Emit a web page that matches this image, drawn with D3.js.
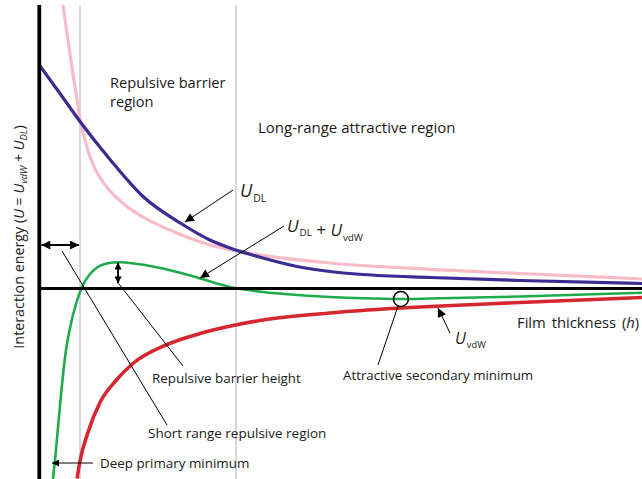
<!DOCTYPE html>
<html>
<head>
<meta charset="utf-8">
<script src="https://cdn.jsdelivr.net/npm/d3@7"></script>
<style>
  html, body { margin: 0; padding: 0; background: #fff; }
  svg { display: block; }
  text { font-family: "Open Sans", "Noto Sans", sans-serif; fill: #1a1a1a; }
</style>
</head>
<body>
<svg id="chart" width="642" height="479"></svg>
<script>
// ---------- data (film thickness h, interaction energy U; arbitrary units) ----------
const hDL  = [0, 0.515, 1.013, 1.760, 2.581, 3.527, 4.248, 4.746, 5.567, 6.413, 7.234, 8.056, 9.723, 11.963, 15];
const uDL  = [2.235, 1.95, 1.67, 1.29, 0.92, 0.65, 0.485, 0.405, 0.305, 0.22, 0.17, 0.14, 0.11, 0.08, 0.05];

const hRep = [0.590, 0.688, 0.812, 0.939, 1.013, 1.088, 1.212, 1.337, 1.511, 1.760, 2.133, 2.581, 3.427, 4.248, 4.995, 5.567, 7.234, 9.723, 11.963, 15];
const uRep = [2.835, 2.555, 2.215, 1.885, 1.70, 1.56, 1.38, 1.24, 1.11, 0.975, 0.835, 0.715, 0.555, 0.435, 0.368, 0.332, 0.255, 0.192, 0.15, 0.095];

const hSum = [0.341, 0.403, 0.478, 0.577, 0.665, 0.764, 0.913, 1.063, 1.262, 1.436, 1.635, 1.834, 2.058, 2.257, 3.078, 3.925, 4.746, 5.567, 6.413, 7.234, 8.056, 9.002, 9.723, 11.963, 15];
const uSum = [-1.905, -1.665, -1.335, -0.915, -0.615, -0.395, -0.155, 0.015, 0.145, 0.21, 0.245, 0.26, 0.262, 0.255, 0.20, 0.11, 0.015, -0.035, -0.065, -0.085, -0.098, -0.105, -0.10, -0.08, -0.042];

const hVdw = [0.94, 1.01, 1.21, 1.51, 1.93, 2.33, 3.18, 4.0, 4.82, 5.57, 7.23, 8.90, 9.72, 11.96, 15];
const uVdw = [-1.90, -1.73, -1.44, -1.14, -0.91, -0.75, -0.56, -0.45, -0.37, -0.315, -0.245, -0.198, -0.18, -0.14, -0.09];

const regionBounds = [1.013, 4.895];    // short-range / barrier / long-range boundaries
const secondaryMin = [9.0, -0.105];     // attractive secondary minimum
const barrierPeak  = [1.96, 0.25];      // repulsive barrier top

const xDomain = [0, 15];
const yDomain = [-1.905, 2.835];

// ---------- scales ----------
const svg = d3.select("#chart");
const pL = 39.3, pR = 642, pT = 5, pB = 479;
const x = d3.scaleLinear().domain(xDomain).range([pL, pR]);
const y = d3.scaleLinear().domain(yDomain).range([pB, pT]);

const defs = svg.append("defs");
defs.append("clipPath").attr("id", "plot")
  .append("rect").attr("x", pL).attr("y", pT).attr("width", pR - pL).attr("height", pB - pT);

function marker(id, w, h) {
  defs.append("marker").attr("id", id)
    .attr("viewBox", "0 0 10 10").attr("refX", 10).attr("refY", 5)
    .attr("markerUnits", "userSpaceOnUse")
    .attr("markerWidth", w).attr("markerHeight", h)
    .attr("orient", "auto-start-reverse")
    .append("path").attr("d", "M0,0 L10,5 L0,10 Z").attr("fill", "#000");
}
marker("ah", 11, 9);
marker("ahs", 8, 7);

// ---------- region boundaries ----------
svg.selectAll(".vline").data(regionBounds).enter().append("line")
  .attr("x1", d => x(d)).attr("x2", d => x(d))
  .attr("y1", pT).attr("y2", pB)
  .attr("stroke", "#bdbdcc").attr("stroke-width", 1.2);

// ---------- curves ----------
const line = d3.line().x(d => x(d[0])).y(d => y(d[1])).curve(d3.curveMonotoneX);
const plot = svg.append("g").attr("clip-path", "url(#plot)");
const series = [
  { h: hRep, u: uRep, color: "#f7bcc8", w: 3.2 },
  { h: hDL,  u: uDL,  color: "#3b2b92", w: 3.2 },
  { h: hSum, u: uSum, color: "#1fab4b", w: 2.6 },
  { h: hVdw, u: uVdw, color: "#d6262f", w: 3.6 }
];

// horizontal zero axis
svg.append("line").attr("x1", x(0)).attr("x2", pR).attr("y1", y(0)).attr("y2", y(0))
  .attr("stroke", "#000").attr("stroke-width", 3.2);

series.forEach(s => {
  plot.append("path").datum(s.h.map((h, i) => [h, s.u[i]]))
    .attr("d", line).attr("fill", "none")
    .attr("stroke", s.color).attr("stroke-width", s.w)
    .attr("stroke-linecap", "butt");
});

// vertical axis
svg.append("line").attr("x1", x(0)).attr("x2", x(0)).attr("y1", pT).attr("y2", pB)
  .attr("stroke", "#000").attr("stroke-width", 3.8);

// ---------- annotations ----------
function arrow(x1, y1, x2, y2, opts) {
  const l = svg.append("line").attr("x1", x1).attr("y1", y1).attr("x2", x2).attr("y2", y2)
    .attr("stroke", "#000").attr("stroke-width", opts.w || 1);
  if (opts.end) l.attr("marker-end", `url(#${opts.end})`);
  if (opts.start) l.attr("marker-start", `url(#${opts.start})`);
}
// short-range double arrow
arrow(x(0) + 2, 245, x(regionBounds[0]) - 1, 245, { w: 2, start: "ah", end: "ah" });
// barrier height double arrow
arrow(x(barrierPeak[0]), y(barrierPeak[1]) - 1, x(barrierPeak[0]), y(0) - 5, { w: 2, start: "ahs", end: "ahs" });

// leaders
arrow(233, 190, 185, 222, { end: "ah" });                 // U_DL
arrow(284, 226, 200, 278, { end: "ah" });                 // U_DL + U_vdW
arrow(450, 333, 438, 308, { end: "ah" });                 // U_vdW
arrow(93, 463, 52, 463, { end: "ahs" });                  // deep primary minimum
arrow(62, 251, 167, 425, {});                             // short range
arrow(119, 284, 183, 366, {});                            // barrier height
arrow(398, 306, 378, 365, {});                            // secondary min

svg.append("circle").attr("cx", x(secondaryMin[0])).attr("cy", y(secondaryMin[1]))
  .attr("r", 7.5).attr("fill", "none").attr("stroke", "#000").attr("stroke-width", 1.5);

// ---------- texts ----------
function txt(t, xx, yy, size) {
  return svg.append("text").attr("x", xx).attr("y", yy).attr("font-size", size).text(t);
}
txt("Repulsive barrier", 110, 87.5, 14.6);
txt("region", 110, 107, 14.6);
txt("Long-range attractive region", 258, 133, 15);
txt("Repulsive barrier height", 152, 383, 13.4);
txt("Short range repulsive region", 148, 438, 13.5);
txt("Deep primary minimum", 100, 468, 13.4);
txt("Attractive secondary minimum", 343, 380, 13.3);

const film = svg.append("text").attr("x", 517).attr("y", 328).attr("font-size", 14.8)
  .attr("word-spacing", 2);
film.append("tspan").text("Film thickness (");
film.append("tspan").attr("font-style", "italic").text("h");
film.append("tspan").text(")");

function uLabel(xx, yy, parts, size) {
  const t = svg.append("text").attr("x", xx).attr("y", yy).attr("font-size", size);
  parts.forEach(p => {
    if (p.sub) {
      t.append("tspan").attr("font-size", size * 0.58).attr("dy", size * 0.25).attr("dx", 1).text(p.sub);
      t.append("tspan").attr("dy", -size * 0.25).text("");
    } else if (p.u) {
      t.append("tspan").attr("font-style", "italic").text("U");
    } else {
      t.append("tspan").text(p.t);
    }
  });
}
uLabel(240, 197, [{ u: 1 }, { sub: "DL" }], 18);
uLabel(287, 232, [{ u: 1 }, { sub: "DL" }, { t: " + " }, { u: 1 }, { sub: "vdW" }], 17);
uLabel(455, 344, [{ u: 1 }, { sub: "vdW" }], 16);

// y-axis title
const yt = svg.append("text").attr("transform", "translate(24,237) rotate(-90)")
  .attr("text-anchor", "middle").attr("font-size", 14.3);
yt.append("tspan").text("Interaction energy (");
yt.append("tspan").attr("font-style", "italic").text("U");
yt.append("tspan").text(" = ");
yt.append("tspan").attr("font-style", "italic").text("U");
yt.append("tspan").attr("font-style", "italic").attr("font-size", 9.5).attr("dy", 3).text("vdW");
yt.append("tspan").attr("dy", -3).text(" + ");
yt.append("tspan").attr("font-style", "italic").text("U");
yt.append("tspan").attr("font-style", "italic").attr("font-size", 9.5).attr("dy", 3).text("DL");
yt.append("tspan").attr("dy", -3).text(")");
</script>
</body>
</html>
